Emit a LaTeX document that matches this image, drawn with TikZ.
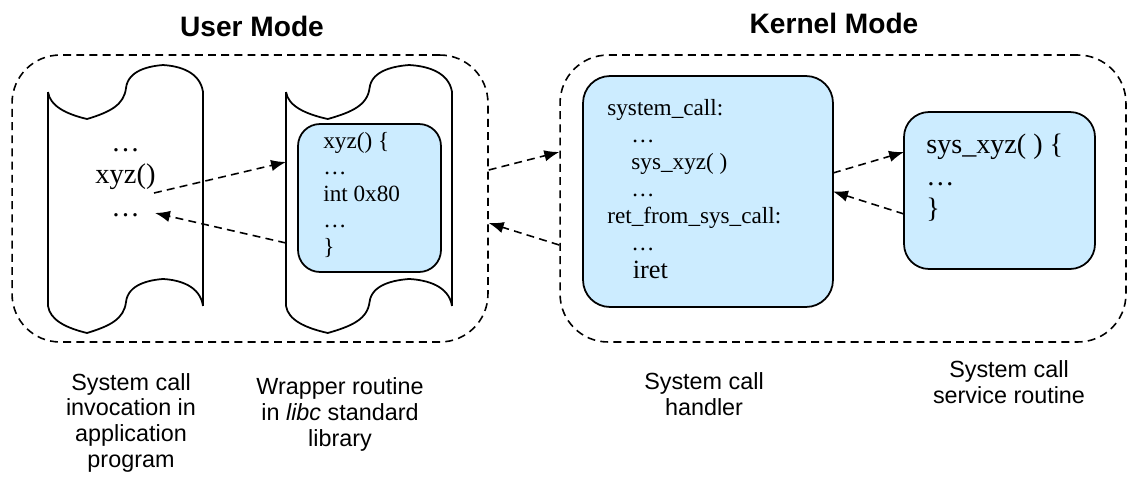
\documentclass[tikz,border=0pt]{standalone}
\usepackage{fontspec}
\setmainfont{Liberation Serif}
\setsansfont{Liberation Sans}
\usetikzlibrary{arrows.meta}
\definecolor{codeblue}{RGB}{204,236,255}

\begin{document}
\begin{tikzpicture}[x=0.02cm,y=-0.02cm,>={Latex[length=8.5pt,width=6.5pt]}]
	\tikzset{mode/.style = {shape=rectangle, rounded corners=0.96cm, draw, line width=0.9pt, dash pattern=on 4.5pt off 3pt, minimum height=5.74cm}}
	\tikzset{body/.style = {shape=rectangle, minimum height=4.28cm, inner sep=0pt, outer sep=0pt}}
	\tikzset{scroll/.style = {line width=1pt, line join=round}}
	\tikzset{vertex/.style = {shape=rectangle, draw, line width=1pt, fill=codeblue, outer sep=0pt}}
	\tikzset{code/.style = {align=left, inner sep=0pt, anchor=base west}}
	\tikzset{caption/.style = {align=center, inner sep=0pt, anchor=base, font=\sffamily\fontsize{13.3}{14.6}\selectfont}}
	\tikzset{title/.style = {inner sep=0pt, anchor=base, font=\sffamily\bfseries\fontsize{16}{19}\selectfont}}
	\tikzset{call/.style = {->, line width=0.9pt, dash pattern=on 4.5pt off 3pt}}
	
	\useasboundingbox (0,0) rectangle (1128,484);
	
	\node[mode, minimum width=9.52cm] (USER) at (250,198.5) {};
	\node[mode, minimum width=11.32cm] (KERNEL) at (843,198.5) {};
	\node[title] (USERT) at (252,36) {User Mode};
	\node[title] (KERNELT) at (834,33) {Kernel Mode};
	
	\node[body, minimum width=3.1cm] (APP) at (125.5,199) {};
	\node[body, minimum width=3.32cm] (WRAP) at (369,199) {};
	\foreach \s/\k in {APP/1, WRAP/1.071} {
		\draw[scroll] (\s.north west) -- (\s.south west) (\s.north east) -- (\s.south east);
		\foreach \c in {north west, south west}
			\draw[scroll, shift={(\s.\c)}, xscale=\k] (0,0) .. controls (2,14) and (18,22) .. (39,27)
				.. controls (62,20) and (76,13) .. (78,-4) .. controls (80,-22) and (102,-26) .. (115,-27)
				.. controls (132,-26) and (152,-20) .. (155,0);
	}
	
	\node[code, anchor=base, align=center, font=\fontsize{16.2}{18.5}\selectfont] (APPTXT) at (125.5,216) {…\\xyz()\\…};
	
	\node[vertex, rounded corners=0.44cm, minimum width=2.86cm, minimum height=2.96cm] (WRAPBOX) at (369.5,198) {};
	\node[code, font=\fontsize{13.2}{15}\selectfont] (WRAPTXT) at (323,254)
	{xyz() \{\\
		…\\
		int 0x80\\
		…\\
		\}};
	
	\node[vertex, rounded corners=0.54cm, minimum width=5cm, minimum height=4.62cm] (HANDLER) at (708,191.5) {};
	\node[code, font=\fontsize{13.2}{15.4}\selectfont] (HANDLERTXT) at (607,278)
	{system\_call:\\
		\hspace*{13.7pt}…\\
		\hspace*{13.7pt}sys\_xyz( )\\
		\hspace*{13.7pt}…\\
		ret\_from\_sys\_call:\\
		\hspace*{13.7pt}…\\
		\hspace*{14.5pt}{\fontsize{15}{15.4}\selectfont iret}};
	
	\node[vertex, rounded corners=0.5cm, minimum width=3.82cm, minimum height=3.14cm] (SERVICE) at (999.5,190.5) {};
	\node[code, font=\fontsize{16}{18.2}\selectfont] (SERVICETXT) at (926,217)
	{sys\_xyz( ) \{\\
		…\\
		\}};
	
	\node[caption] (APPLBL) at (131,467) {System call\\invocation in\\application\\program};
	\node[caption] (WRAPLBL) at (340,446) {Wrapper routine\\in \textit{libc} standard\\library};
	\node[caption] (HANDLERLBL) at (704,415) {System call\\handler};
	\node[caption] (SERVICELBL) at (1009,403) {System call\\service routine};
	
	\draw[call] ([shift={(28.5,-6)}]APP.center) -- ([shift={(0,-37)}]WRAP.west);
	\draw[call] ([shift={(0,44)}]WRAP.west) -- ([shift={(29.5,14)}]APP.center);
	\draw[call] ([shift={(0,-28.5)}]USER.east) -- ([shift={(0,-46.5)}]KERNEL.west);
	\draw[call] ([shift={(0,46.5)}]KERNEL.west) -- ([shift={(0,24.5)}]USER.east);
	\draw[call] ([shift={(0,-18.5)}]HANDLER.east) -- ([shift={(0,-38.5)}]SERVICE.west);
	\draw[call] ([shift={(0,23.5)}]SERVICE.west) -- (HANDLER.east);
	
\end{tikzpicture}
\end{document}
